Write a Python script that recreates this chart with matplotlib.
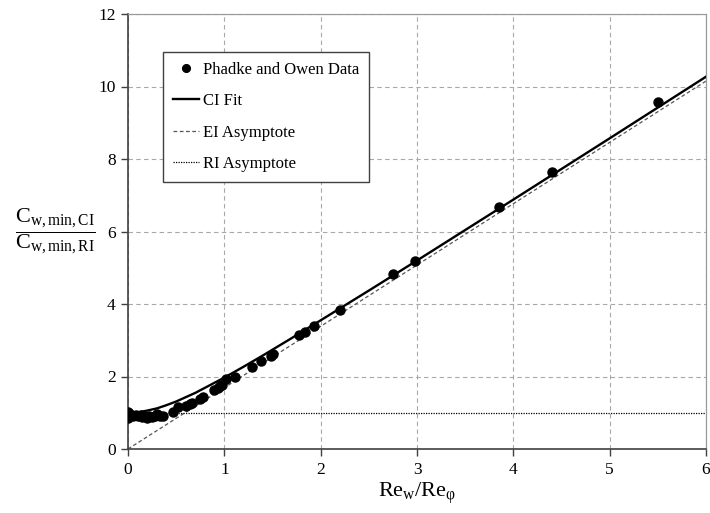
import matplotlib
matplotlib.use("Agg")
import matplotlib.pyplot as plt

plt.rcParams['font.family'] = ['Liberation Serif', 'DejaVu Serif']
plt.rcParams['mathtext.fontset'] = 'custom'
plt.rcParams['mathtext.rm'] = 'Liberation Serif'
plt.rcParams['mathtext.it'] = 'Liberation Serif:italic'

# Phadke and Owen measurements
re_ratio = [0, 0, 0, 0.02, 0.05, 0.08, 0.10, 0.13, 0.15, 0.18, 0.20, 0.22, 0.25,
            0.28, 0.30, 0.33, 0.36, 0.47, 0.52, 0.60, 0.64, 0.66, 0.75, 0.78,
            0.89, 0.93, 0.96, 0.98, 1.02, 1.11, 1.29, 1.38, 1.48, 1.50, 1.78,
            1.84, 1.93, 2.20, 2.75, 2.98, 3.85, 4.40, 5.50]
cw_ratio = [1.03, 0.92, 0.86, 0.96, 0.92, 0.95, 0.90, 0.94, 0.87, 0.90, 0.86,
            0.92, 0.88, 0.90, 0.96, 0.92, 0.90, 1.03, 1.17, 1.20, 1.24, 1.28,
            1.37, 1.43, 1.63, 1.69, 1.74, 1.77, 1.94, 1.99, 2.26, 2.44, 2.57,
            2.61, 3.14, 3.23, 3.39, 3.83, 4.82, 5.18, 6.68, 7.64, 9.57]

# CI fit curve
fit_x = [0, 0.1, 0.2, 0.3, 0.4, 0.5, 0.6, 0.7, 0.8, 0.9, 1.0, 1.2, 1.4, 1.7,
         2.0, 2.5, 3.0, 4.0, 5.0, 6.0]
fit_y = [1.00, 1.01, 1.06, 1.12, 1.21, 1.31, 1.43, 1.55, 1.69, 1.83, 1.97,
         2.27, 2.58, 3.06, 3.55, 4.37, 5.20, 6.88, 8.57, 10.27]

# asymptotes
ei_x = [0, 6]
ei_y = [0, 10.15]
ri_x = [0, 6]
ri_y = [1, 1]

fig = plt.figure(figsize=(7.10, 5.13), dpi=100)
ax = fig.add_axes([128 / 710, 64 / 513, 578 / 710, 435 / 513])

ax.plot(re_ratio, cw_ratio, 'o', color='black', markersize=6.5,
        label='Phadke and Owen Data', zorder=4)
ax.plot(fit_x, fit_y, '-', color='black', lw=1.7, label='CI Fit', zorder=3)
ax.plot(ei_x, ei_y, color='#555555', lw=0.9, dashes=(3, 2),
        label='EI Asymptote', zorder=2)
ax.plot(ri_x, ri_y, color='black', lw=0.9, dashes=(1, 1),
        label='RI Asymptote', zorder=2)

ax.set_xlim(0, 6)
ax.set_ylim(0, 12)
ax.set_xticks(range(0, 7))
ax.set_yticks(range(0, 13, 2))

ax.grid(True, color='#a8a8a8', lw=0.8, dashes=(4, 3))
ax.set_axisbelow(True)

for side in ['left', 'bottom']:
    ax.spines[side].set_color('#404040')
    ax.spines[side].set_linewidth(1.2)
for side in ['top', 'right']:
    ax.spines[side].set_color('#9a9a9a')
    ax.spines[side].set_linewidth(0.9)

ax.tick_params(direction='out', length=5, width=1, color='#404040',
               labelsize=12.5, pad=4)

ax.set_xlabel(r'$\mathrm{Re_w/Re_{\varphi}}$', fontsize=16, labelpad=2)
ax.set_ylabel(r'$\dfrac{\mathrm{C_{w,min,CI}}}{\mathrm{C_{w,min,RI}}}$',
              fontsize=16, rotation=0, ha='center', va='center')
ax.yaxis.set_label_coords(-0.126, 0.5)

leg = ax.legend(loc='upper left', bbox_to_anchor=(0.060, 0.913),
                borderaxespad=0, fontsize=12, fancybox=False, framealpha=1,
                edgecolor='#404040', handlelength=1.6, handletextpad=0.2,
                labelspacing=0.92, borderpad=0.6, markerscale=0.85)
leg.get_frame().set_linewidth(1.0)

fig.savefig('out.png', dpi=100)
